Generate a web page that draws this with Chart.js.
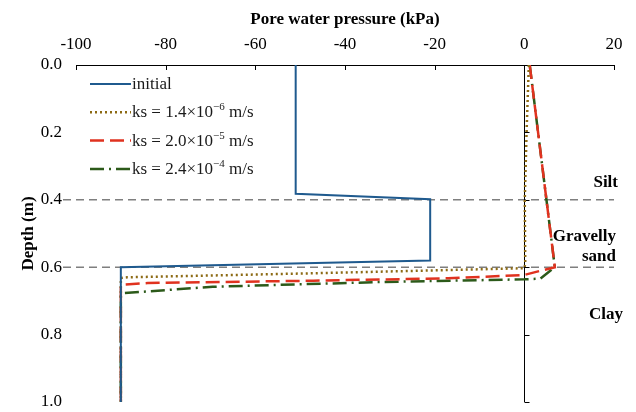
<!DOCTYPE html>
<html>
<head>
    <title>Pore water pressure profile</title>
    <script src="https://cdn.jsdelivr.net/npm/chart.js"></script>
    <style>
        body {
            margin: 0;
            background: #fff;
        }
        #wrap {
            width: 636px;
            height: 412px;
        }
    </style>
</head>
<body>
    <div id="wrap">
        <canvas id="pwpChart" width="636" height="412"></canvas>
    </div>

    <script>
// series labels (legend)
const seriesLabels = ['initial', 'ks = 1.4×10⁻⁶ m/s', 'ks = 2.0×10⁻⁵ m/s', 'ks = 2.4×10⁻⁴ m/s'];

// pore water pressure (kPa) and depth (m) for each series
const initialP = [-51, -51, -21, -21, -90, -90];
const initialD = [0, 0.382, 0.398, 0.58, 0.6, 1.0];

const ks1P = [1.0, 0.5, 0.1, 0.2, 0, -47, -88.6, -90, -90];
const ks1D = [0, 0.2, 0.4, 0.59, 0.603, 0.618, 0.63, 0.632, 1.0];

const ks2P = [1.2, 4.0, 6.8, 3.8, 0, -17, -47, -84, -89.5, -90, -90];
const ks2D = [0, 0.3, 0.6, 0.61, 0.623, 0.633, 0.64, 0.647, 0.652, 0.66, 1.0];

const ks3P = [1.2, 4.0, 6.8, 3.6, 0, -32, -69.5, -89.5, -90, -90];
const ks3D = [0, 0.3, 0.6, 0.634, 0.636, 0.644, 0.658, 0.677, 0.685, 1.0];

// axes
const pressureTicks = [-100, -80, -60, -40, -20, 0, 20];
const depthTicks = [0, 0.2, 0.4, 0.6, 0.8, 1.0];

// soil layers
const layerDepths = [0.4, 0.6];
const layerNames = ['Silt', 'Gravelly sand', 'Clay'];

const serif = '"Liberation Serif", "Times New Roman", serif';

function toPoints(px, dy) {
    return px.map((p, i) => ({ x: p, y: dy[i] }));
}

const decor = {
    id: 'decor',
    beforeDatasetsDraw(chart) {
        const { ctx, chartArea, scales: { x, y } } = chart;
        ctx.save();
        // layer boundaries
        ctx.strokeStyle = '#7f7f7f';
        ctx.lineWidth = 1.5;
        ctx.setLineDash([8, 5]);
        layerDepths.forEach(d => {
            const py = y.getPixelForValue(d);
            ctx.beginPath();
            ctx.moveTo(63, py);
            ctx.lineTo(chartArea.right, py);
            ctx.stroke();
        });
        // vertical axis at zero
        ctx.setLineDash([]);
        ctx.strokeStyle = '#000';
        ctx.lineWidth = 1;
        const x0 = Math.round(x.getPixelForValue(0)) + 0.5;
        ctx.beginPath();
        ctx.moveTo(x0, chartArea.top);
        ctx.lineTo(x0, chartArea.bottom);
        depthTicks.forEach(d => {
            const py = Math.round(y.getPixelForValue(d)) + 0.5;
            ctx.moveTo(x0, py);
            ctx.lineTo(x0 + 5, py);
        });
        // top axis ticks pointing into the plot
        pressureTicks.forEach(p => {
            const px = Math.round(x.getPixelForValue(p)) + 0.5;
            ctx.moveTo(px, chartArea.top);
            ctx.lineTo(px, chartArea.top + 5);
        });
        ctx.stroke();
        ctx.restore();
    },
    afterDraw(chart) {
        const { ctx, scales: { y } } = chart;
        ctx.save();
        // legend
        chart.data.datasets.forEach((ds, i) => {
            const ly = 84 + i * 28.3;
            ctx.strokeStyle = ds.borderColor;
            ctx.lineWidth = ds.borderWidth;
            ctx.setLineDash(ds.borderDash || []);
            ctx.beginPath();
            ctx.moveTo(90, ly);
            ctx.lineTo(131, ly);
            ctx.stroke();
            drawLabel(ctx, seriesLabels[i], 132, ly + 5);
        });
        // layer names
        ctx.fillStyle = '#000';
        ctx.font = 'bold 17px ' + serif;
        ctx.textAlign = 'right';
        ctx.textBaseline = 'middle';
        ctx.fillText(layerNames[0], 618, y.getPixelForValue(0.35));
        const gs = layerNames[1].split(' ');
        ctx.fillText(gs[0], 616, y.getPixelForValue(0.51));
        ctx.fillText(gs[1], 616, y.getPixelForValue(0.57));
        ctx.fillText(layerNames[2], 623, y.getPixelForValue(0.74));
        ctx.restore();
    }
};

// draw text with unicode superscripts raised in a smaller font
function drawLabel(ctx, text, x, baseline) {
    const sup = '⁰¹²³⁴⁵⁶⁷⁸⁹⁻';
    const norm = '0123456789−';
    const parts = text.split(/([⁰¹²³⁴⁵⁶⁷⁸⁹⁻]+)/);
    ctx.fillStyle = '#1a1a1a';
    ctx.textAlign = 'left';
    ctx.textBaseline = 'alphabetic';
    parts.forEach(part => {
        if (!part) return;
        if (sup.includes(part[0])) {
            const s = [...part].map(c => norm[sup.indexOf(c)]).join('');
            ctx.font = '11px ' + serif;
            ctx.fillText(s, x, baseline - 7);
            x += ctx.measureText(s).width;
        } else {
            ctx.font = '17px ' + serif;
            ctx.fillText(part, x, baseline);
            x += ctx.measureText(part).width;
        }
    });
}

const ctx = document.getElementById('pwpChart').getContext('2d');
new Chart(ctx, {
    type: 'scatter',
    data: {
        datasets: [
            {
                label: seriesLabels[0],
                data: toPoints(initialP, initialD),
                borderColor: '#1f5a8e',
                borderWidth: 2
            },
            {
                label: seriesLabels[1],
                data: toPoints(ks1P, ks1D),
                borderColor: '#8c6a14',
                borderWidth: 2.5,
                borderDash: [2, 3]
            },
            {
                label: seriesLabels[2],
                data: toPoints(ks2P, ks2D),
                borderColor: '#e0321f',
                borderWidth: 2.5,
                borderDash: [14, 6]
            },
            {
                label: seriesLabels[3],
                data: toPoints(ks3P, ks3D),
                borderColor: '#2c5a1a',
                borderWidth: 2.5,
                borderDash: [14, 5, 2, 5]
            }
        ].map(ds => Object.assign(ds, { showLine: true, pointRadius: 0, fill: false, tension: 0 }))
    },
    options: {
        responsive: false,
        animation: false,
        layout: {
            padding: { left: 0, top: 0, right: 22, bottom: 10 }
        },
        plugins: {
            legend: { display: false },
            tooltip: { enabled: false }
        },
        scales: {
            x: {
                type: 'linear',
                position: 'top',
                min: -100,
                max: 20,
                afterBuildTicks: axis => { axis.ticks = pressureTicks.map(v => ({ value: v })); },
                afterFit: axis => {
                    axis.height = 65;
                    axis.paddingLeft = 0;
                    axis.paddingRight = 0;
                },
                ticks: {
                    color: '#000',
                    padding: 10,
                    font: { family: serif, size: 17 },
                    callback: v => v
                },
                grid: { drawOnChartArea: false, drawTicks: false },
                border: { display: true, color: '#000', width: 1 },
                title: {
                    display: true,
                    text: 'Pore water pressure (kPa)',
                    color: '#000',
                    font: { family: serif, size: 17, weight: 'bold' },
                    padding: { top: 9, bottom: 2 }
                }
            },
            y: {
                type: 'linear',
                reverse: true,
                min: 0,
                max: 1,
                afterBuildTicks: axis => { axis.ticks = depthTicks.map(v => ({ value: v })); },
                afterFit: axis => {
                    axis.width = 76;
                    axis.paddingTop = 0;
                    axis.paddingBottom = 0;
                },
                ticks: {
                    color: '#000',
                    padding: 14,
                    font: { family: serif, size: 17 },
                    callback: v => Number(v).toFixed(1)
                },
                grid: { display: false, drawTicks: false },
                border: { display: false },
                title: {
                    display: true,
                    text: 'Depth (m)',
                    color: '#000',
                    font: { family: serif, size: 17, weight: 'bold' },
                    padding: { top: 18, bottom: 0 }
                }
            }
        }
    },
    plugins: [decor]
});
</script>
</body>
</html>
